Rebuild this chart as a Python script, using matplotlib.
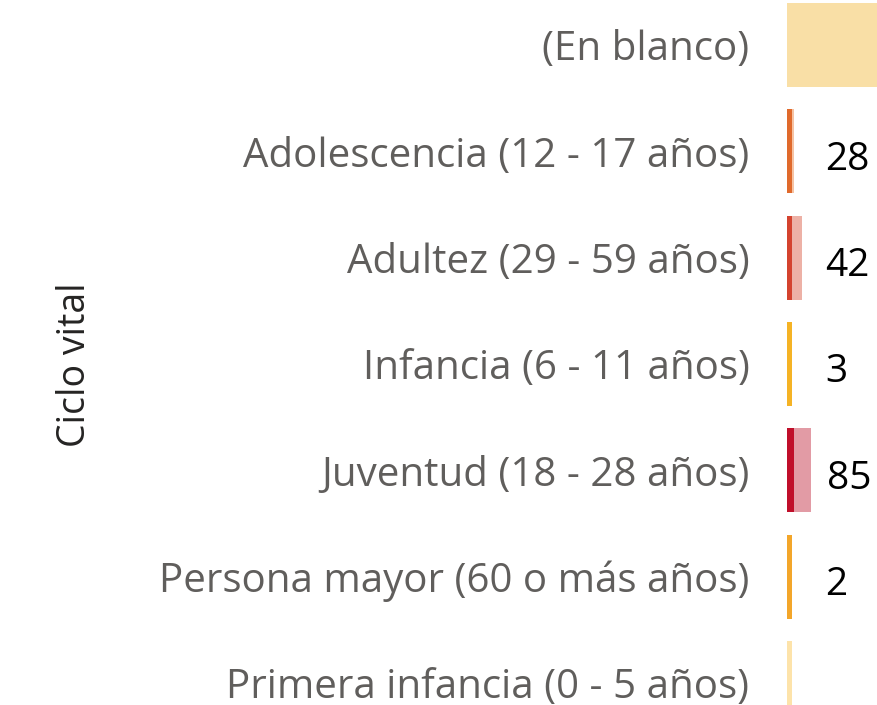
import matplotlib
matplotlib.use("Agg")
import matplotlib.pyplot as plt

plt.rcParams['font.family'] = ['Open Sans', 'DejaVu Sans']

# categorias (de arriba hacia abajo)
categorias = ["(En blanco)", "Adolescencia (12 - 17 años)", "Adultez (29 - 59 años)",
              "Infancia (6 - 11 años)", "Juventud (18 - 28 años)",
              "Persona mayor (60 o más años)", "Primera infancia (0 - 5 años)"]
totales = [None, 28, 42, 3, 85, 2, None]
# ancho visible de cada segmento (escala del eje recortado)
seg1 = [300, 5, 5, 5, 7, 5, 5]
seg2 = [0, 2, 10, 0, 17, 0, 0]
color1 = ["#F9DFA6", "#E06A2C", "#D4432F", "#F5B325", "#C00F2A", "#F3A62A", "#FDE3AA"]
color2 = ["#F9DFA6", "#F6C3A4", "#EDB1A6", "#F5B325", "#E29BA5", "#F3A62A", "#FDE3AA"]

fig = plt.figure(figsize=(8.77, 7.05), dpi=100)
ax = fig.add_axes([787 / 877, 0, 90 / 877, 1])

y = list(range(len(categorias)))
ax.barh(y, seg1, height=0.79, color=color1, linewidth=0)
ax.barh(y, seg2, left=seg1, height=0.79, color=color2, linewidth=0)

for i, t in enumerate(totales):
    if t is None:
        continue
    x = max(38, seg1[i] + seg2[i] + 16)
    ax.text(x, i + 0.08, str(t), ha='left', va='center', fontsize=28, color='black')

ax.set_xlim(0, 90)
ax.set_ylim(6.207, -0.423)
ax.set_yticks(y)
ax.set_yticklabels(categorias, fontsize=29, color='#605E5C')
ax.tick_params(axis='y', length=0, pad=27)
ax.set_xticks([])
for s in ax.spines.values():
    s.set_visible(False)

fig.text(75 / 877, 1 - 365 / 705, "Ciclo vital", rotation=90, ha='center', va='center',
         fontsize=27, color='#252423')

fig.savefig("out.png", dpi=100)
